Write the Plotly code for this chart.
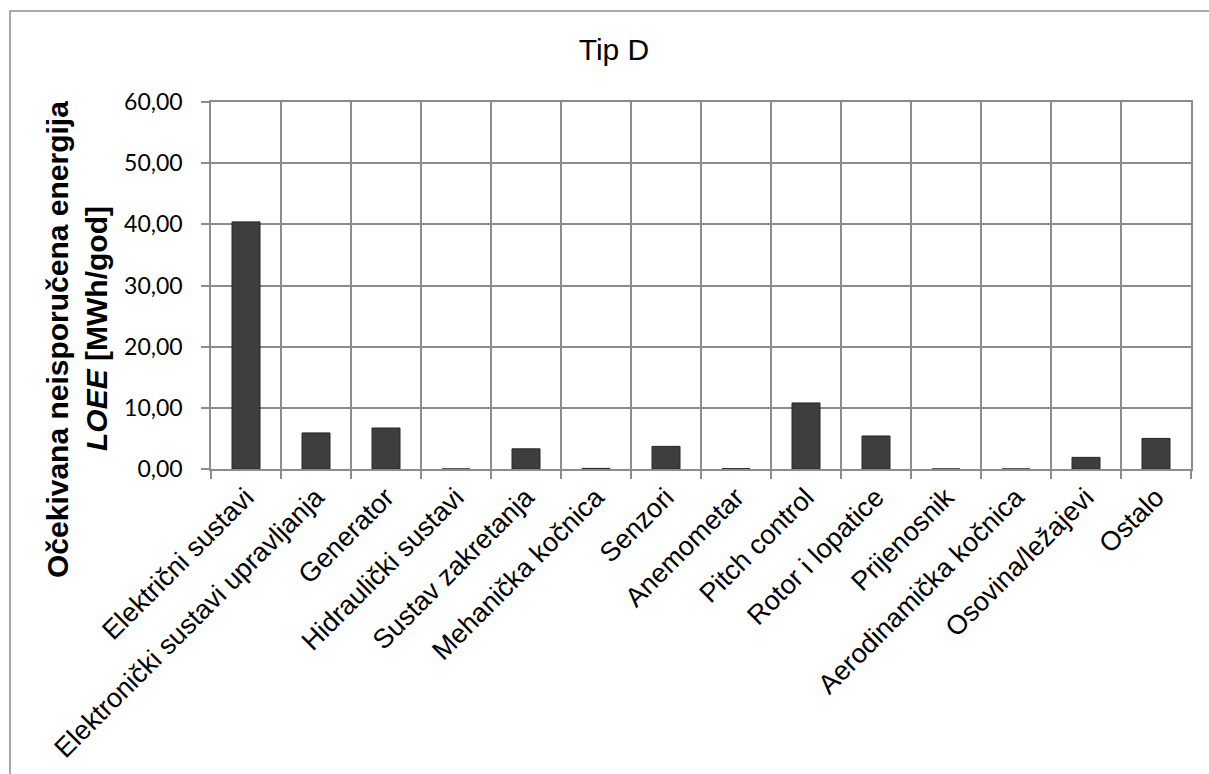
import plotly.graph_objects as go

categories = [
    "Električni sustavi",
    "Elektronički sustavi upravljanja",
    "Generator",
    "Hidraulički sustavi",
    "Sustav zakretanja",
    "Mehanička kočnica",
    "Senzori",
    "Anemometar",
    "Pitch control",
    "Rotor i lopatice",
    "Prijenosnik",
    "Aerodinamička kočnica",
    "Osovina/ležajevi",
    "Ostalo",
]
loee = [40.4, 5.9, 6.7, 0.0, 3.3, 0.1, 3.7, 0.05, 10.8, 5.4, 0.0, 0.0, 1.9, 5.0]

y_ticks = [0, 10, 20, 30, 40, 50, 60]
y_tick_text = ["0,00", "10,00", "20,00", "30,00", "40,00", "50,00", "60,00"]

GRID = "#8c8c8c"

fig = go.Figure()
fig.add_trace(go.Bar(
    x=categories,
    y=loee,
    marker=dict(color="#3e3e3e", line=dict(color="#262626", width=1)),
    width=0.4,
    hoverinfo="x+y",
))

W, H = 1209, 774
L, R, T, B = 211, 18, 102, 305
pw = W - L - R
ph = H - T - B

def px_to_paper_x(px):
    return (px - L) / pw

def px_to_paper_y(py):
    return (H - B - py) / ph

fig.update_layout(
    width=W,
    height=H,
    margin=dict(l=L, r=R, t=T, b=B),
    paper_bgcolor="white",
    plot_bgcolor="white",
    showlegend=False,
    bargap=0.6,
    title=dict(
        text="Tip D",
        font=dict(family="Liberation Sans, Arial", size=30, color="black"),
        x=614 / W,
        xref="container",
        xanchor="center",
        y=1 - 49 / H,
        yref="container",
        yanchor="middle",
    ),
    font=dict(family="Liberation Sans, Arial", color="black"),
)

fig.update_xaxes(
    type="category",
    tickangle=-45,
    tickfont=dict(family="Liberation Sans, Arial", size=27, color="black"),
    showgrid=True,
    gridcolor=GRID,
    gridwidth=1.5,
    tickson="boundaries",
    ticks="outside",
    ticklen=8,
    tickcolor=GRID,
    tickwidth=1.5,
    showline=True,
    linecolor=GRID,
    linewidth=1.5,
    mirror=True,
)

fig.update_yaxes(
    range=[0, 60],
    tickvals=y_ticks,
    ticktext=y_tick_text,
    tickfont=dict(family="Lato, Open Sans", size=23, color="black"),
    showgrid=True,
    gridcolor=GRID,
    gridwidth=1.5,
    ticks="outside",
    ticklen=8,
    tickcolor=GRID,
    tickwidth=1.5,
    showline=True,
    linecolor=GRID,
    linewidth=1.5,
    mirror=True,
    zeroline=False,
    ticklabelstandoff=14,
)

# y axis title as two rotated lines
fig.add_annotation(
    text="<b>Očekivana neisporučena energija</b>",
    xref="paper", yref="paper",
    x=px_to_paper_x(57), y=px_to_paper_y(340),
    xanchor="center", yanchor="middle",
    textangle=-90, showarrow=False,
    font=dict(family="Liberation Sans, Arial", size=30, color="black"),
)
fig.add_annotation(
    text="<b><i>LOEE</i> [MWh/god]</b>",
    xref="paper", yref="paper",
    x=px_to_paper_x(96), y=px_to_paper_y(329),
    xanchor="center", yanchor="middle",
    textangle=-90, showarrow=False,
    font=dict(family="Liberation Sans, Arial", size=30, color="black"),
)

# outer chart frame
fig.add_shape(
    type="rect", xref="paper", yref="paper",
    x0=px_to_paper_x(10), x1=px_to_paper_x(1230),
    y0=px_to_paper_y(800), y1=px_to_paper_y(11),
    line=dict(color=GRID, width=1.5), fillcolor="rgba(0,0,0,0)",
    layer="below",
)

fig.write_html(
    "out.html",
    config={"displayModeBar": False},
    post_script="document.body.style.margin='0';document.body.style.padding='0';",
)
